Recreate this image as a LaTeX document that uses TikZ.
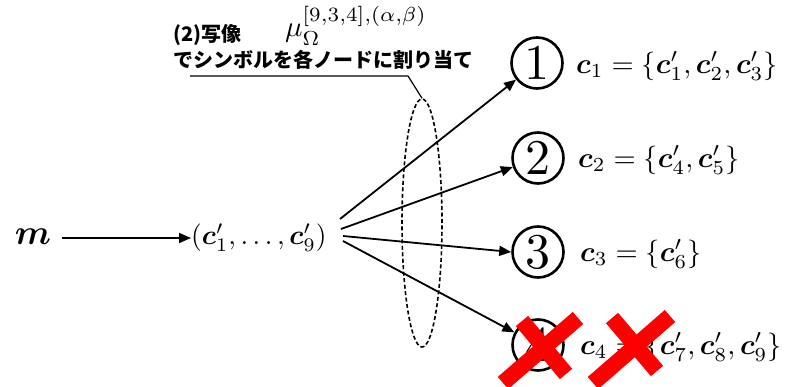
\documentclass[tikz,border=0pt]{standalone}
\usepackage{amsmath,bm}
\usepackage{fontspec}
\newfontfamily\jp{Noto Sans CJK JP}
\usetikzlibrary{arrows.meta,shapes.geometric}
\newcommand{\scmath}[1]{\scalebox{2.85}{#1}}
\begin{document}
\begin{tikzpicture}[x=1pt,y=-1pt,
  mathtxt/.style={inner sep=0pt},
  numcirc/.style={circle,draw,line width=2.6pt,minimum size=51pt,inner sep=0pt},
  arr/.style={line width=1.8pt,-{Triangle[length=12pt,width=10pt]}},
  redx/.style={red,line width=16pt},
  jptxt/.style={inner sep=0pt,anchor=west,font=\jp\bfseries\fontsize{20}{22}\selectfont}]
\useasboundingbox (0,0) rectangle (789,387);
% left part
\node[inner sep=0pt] (m) at (33,237) {\scalebox{3.5}{$\bm{m}$}};
\node[mathtxt,anchor=west] (cv) at (191,238) {\scalebox{2.75}{$(\bm{c}'_1,\ldots,\bm{c}'_9)$}};
\coordinate (m0) at (62,238);
\draw[arr] (m0) -- (cv.west);
% circles
\node[numcirc] (c1) at (537,63) {\scalebox{5}{1}};
\node[numcirc] (c2) at (538,158) {\scalebox{5}{2}};
\node[numcirc] (c3) at (538,252) {\scalebox{5}{3}};
\node[numcirc] (c4) at (538,345) {\scalebox{5}{4}};
% labels
\node[mathtxt,anchor=west] (l1) at (576,66) {\scmath{$\bm{c}_1=\{\bm{c}'_1,\bm{c}'_2,\bm{c}'_3\}$}};
\node[mathtxt,anchor=west] (l2) at (578,160) {\scmath{$\bm{c}_2=\{\bm{c}'_4,\bm{c}'_5\}$}};
\node[mathtxt,anchor=west] (l3) at (580,254) {\scmath{$\bm{c}_3=\{\bm{c}'_6\}$}};
\node[mathtxt,anchor=west] (l4) at (580,347) {\scmath{$\bm{c}_4=\{\bm{c}'_7,\bm{c}'_8,\bm{c}'_9\}$}};
% fan arrows
\coordinate (s1) at (340,219);
\coordinate (s2) at (341,229);
\coordinate (s3) at (343,236);
\coordinate (s4) at (343,241);
\draw[arr] (s1) -- (c1);
\draw[arr] (s2) -- (c2);
\draw[arr] (s3) -- (c3.west);
\draw[arr] (s4) -- (c4);
% dashed ellipse
\node[ellipse,draw,dash pattern=on 4pt off 2.5pt,line width=1.6pt,minimum width=40pt,minimum height=248pt,inner sep=0pt] (ell) at (422,223) {};
% annotation
\node[jptxt] (t1) at (173,35) {(2)写像};
\node[inner sep=0pt,anchor=base west] (mu) at (285,37) {\scalebox{2.9}{$\mu_{\Omega}^{[9,3,4],(\alpha,\beta)}$}};
\node[jptxt] (t2) at (173,60) {でシンボルを各ノードに割り当て};
\coordinate (u0) at (190,76);
\coordinate (u1) at (408,76);
\draw[line width=1.2pt] (u0) -- (u1) -- (ell.north);
% red crosses
\draw[redx] (503,383) -- (578,318);
\draw[redx] (522,321) -- (566,374);
\draw[redx] (593,383) -- (670,316);
\draw[redx] (612,318) -- (657,371);
\end{tikzpicture}
\end{document}
